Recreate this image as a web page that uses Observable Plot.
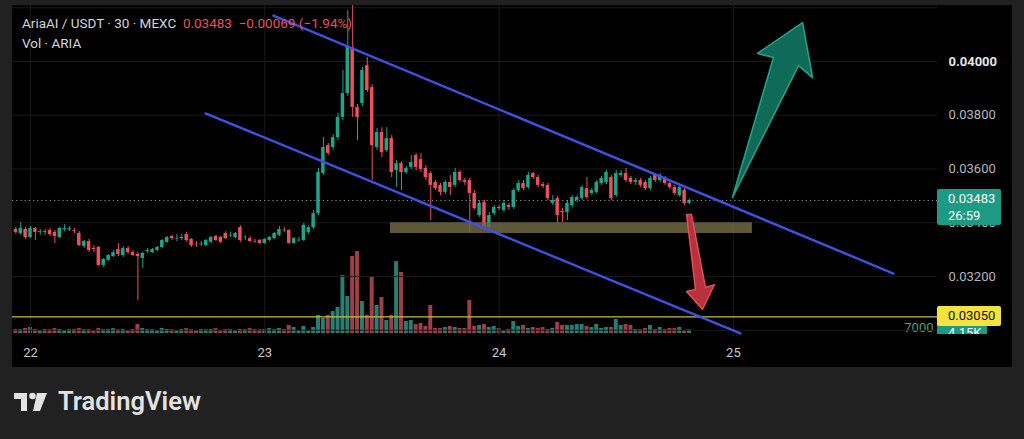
<!DOCTYPE html>
<html><head><meta charset="utf-8">
<script src="https://cdn.jsdelivr.net/npm/d3@7"></script>
<script src="https://cdn.jsdelivr.net/npm/@observablehq/plot@0.6"></script>
<style>
html,body{margin:0;padding:0;background:#212121;width:1024px;height:439px;overflow:hidden;font-family:Roboto,"Noto Sans",sans-serif;}
#panel{position:absolute;left:12px;top:5px;width:1000px;height:362px;background:#000;overflow:hidden;}
#panel svg{position:absolute;left:0;top:0;}
.hdr{position:absolute;left:10px;font-size:13.5px;color:#d1d4dc;white-space:pre;line-height:16px;}
.hdr .red{color:#e5535c;}
.lbl{position:absolute;left:925px;width:64px;box-sizing:border-box;padding-left:11px;font-size:13px;border-radius:2px;}
#logo{position:absolute;left:14px;top:388px;height:30px;}
#logo span{position:absolute;left:44px;top:-2px;font-size:25.5px;font-weight:600;color:#e3e3e3;letter-spacing:0px;white-space:nowrap;}
</style></head>
<body>
<div id="panel"></div>
<div id="logo"><svg width="40" height="30" style="position:absolute;left:0;top:0">
<path d="M0 5 H13 V23 H7 V11 H0 Z" fill="#e3e3e3"/>
<circle cx="18.5" cy="8" r="3.3" fill="#e3e3e3"/>
<path d="M23 5 H33 L26 23 H19 Z" fill="#e3e3e3"/>
</svg><span>TradingView</span></div>
<script>
// ---- data (30-minute candles, AriaAI / USDT, MEXC) ----
const firstDay = 21.9375; // 21st, 22:30
const open = [
.03375,.03360,.03375,.03345,.03379,.03364,.03367,.03371,.03364,.03345,
.03375,.03373,.03371,.03360,.03312,.03330,.03304,.03308,.03241,.03260,
.03274,.03300,.03278,.03304,.03289,.03282,.03267,.03293,.03289,.03297,
.03308,.03327,.03349,.03340,.03341,.03356,.03338,.03320,.03318,.03315,
.03327,.03349,.03345,.03360,.03351,.03345,.03382,.03344,.03341,.03331,
.03334,.03323,.03334,.03341,.03353,.03372,.03371,.03323,.03333,.03334,
.03364,.03382,.03434,.03583,.03687,.03680,.03717,.03792,.03881,.04052,
.03829,.03844,.03985,.03903,.03680,.03736,.03669,.03713,.03594,.03620,
.03587,.03606,.03650,.03635,.03602,.03583,.03550,.03539,.03513,.03550,
.03539,.03587,.03557,.03557,.03509,.03427,.03475,.03382,.03434,.03457,
.03446,.03464,.03457,.03520,.03546,.03531,.03583,.03568,.03542,.03539,
.03472,.03490,.03442,.03438,.03464,.03483,.03490,.03527,.03509,.03513,
.03546,.03550,.03568,.03501,.03576,.03583,.03565,.03550,.03557,.03550,
.03527,.03576,.03557,.03565,.03546,.03531,.03501,.03520,.03472];
const close = [
.03364,.03379,.03345,.03379,.03364,.03367,.03364,.03356,.03349,.03379,
.03379,.03378,.03368,.03315,.03330,.03297,.03300,.03241,.03263,.03278,
.03289,.03282,.03304,.03289,.03278,.03274,.03286,.03297,.03300,.03308,
.03334,.03345,.03341,.03342,.03345,.03334,.03315,.03318,.03321,.03334,
.03345,.03334,.03327,.03341,.03353,.03360,.03334,.03346,.03330,.03329,
.03323,.03338,.03345,.03360,.03375,.03370,.03323,.03341,.03335,.03390,
.03382,.03434,.03587,.03680,.03658,.03717,.03792,.03881,.04052,.03829,
.03792,.03967,.03892,.03687,.03736,.03661,.03713,.03587,.03620,.03587,
.03602,.03624,.03606,.03598,.03568,.03539,.03527,.03513,.03550,.03531,
.03587,.03557,.03550,.03509,.03453,.03472,.03382,.03427,.03457,.03453,
.03472,.03457,.03520,.03546,.03527,.03576,.03568,.03539,.03535,.03490,
.03483,.03427,.03438,.03472,.03494,.03494,.03531,.03494,.03520,.03550,
.03565,.03587,.03490,.03583,.03583,.03557,.03550,.03557,.03539,.03527,
.03565,.03557,.03576,.03546,.03531,.03509,.03531,.03472,.03483];
const high = [
.03383,.03401,.03383,.03386,.03383,.03375,.03375,.03379,.03371,.03383,
.03393,.03386,.03379,.03367,.03334,.03338,.03315,.03312,.03267,.03282,
.03297,.03323,.03312,.03312,.03297,.03289,.03289,.03304,.03304,.03312,
.03338,.03349,.03353,.03356,.03356,.03364,.03341,.03330,.03330,.03338,
.03349,.03353,.03349,.03367,.03364,.03364,.03390,.03353,.03349,.03338,
.03338,.03341,.03349,.03364,.03386,.03383,.03375,.03345,.03345,.03397,
.03390,.03446,.03602,.03717,.03695,.03728,.03807,.03967,.04190,.04210,
.03840,.03978,.04015,.03914,.03751,.03754,.03754,.03725,.03632,.03628,
.03609,.03650,.03658,.03658,.03613,.03591,.03557,.03546,.03557,.03576,
.03602,.03594,.03565,.03565,.03520,.03483,.03483,.03438,.03464,.03464,
.03483,.03472,.03527,.03557,.03557,.03587,.03587,.03576,.03550,.03546,
.03501,.03498,.03453,.03483,.03501,.03501,.03539,.03568,.03527,.03557,
.03572,.03594,.03576,.03594,.03594,.03602,.03572,.03565,.03565,.03557,
.03572,.03583,.03583,.03572,.03553,.03539,.03539,.03527,.03487];
const low = [
.03357,.03353,.03338,.03341,.03334,.03353,.03353,.03349,.03323,.03341,
.03367,.03368,.03360,.03312,.03304,.03289,.03289,.03237,.03233,.03256,
.03271,.03274,.03271,.03282,.03274,.03111,.03230,.03286,.03286,.03293,
.03304,.03323,.03334,.03330,.03334,.03327,.03308,.03308,.03312,.03312,
.03323,.03330,.03323,.03338,.03345,.03341,.03327,.03334,.03327,.03323,
.03319,.03319,.03330,.03338,.03349,.03364,.03319,.03319,.03327,.03330,
.03356,.03375,.03427,.03576,.03650,.03669,.03706,.03780,.03870,.03792,
.03706,.03833,.03885,.03557,.03669,.03643,.03661,.03568,.03531,.03520,
.03580,.03598,.03594,.03587,.03557,.03408,.03520,.03501,.03505,.03501,
.03531,.03550,.03539,.03360,.03446,.03420,.03371,.03371,.03427,.03446,
.03438,.03446,.03449,.03513,.03520,.03524,.03561,.03531,.03527,.03483,
.03464,.03397,.03401,.03408,.03457,.03475,.03483,.03486,.03501,.03505,
.03539,.03542,.03483,.03494,.03568,.03550,.03542,.03539,.03531,.03520,
.03520,.03550,.03550,.03539,.03524,.03501,.03494,.03464,.03468];
const volume = [
4700,4500,5900,7000,4600,3500,4800,4400,5800,4700,
3600,4600,4900,5800,4500,4700,3400,5900,4600,4800,
5700,4400,4800,3600,4700,10500,5800,4600,4500,3500,
5900,4700,4500,3600,4800,5800,4600,3500,4700,4500,
4800,5700,3600,4600,4700,3500,4800,4600,5800,4700,
4500,4800,5800,4600,5900,4700,9400,7000,3500,
8200,3500,7000,21100,17600,21100,25700,30400,67900,43300,
90100,95900,37400,21100,65500,32800,42100,15200,21100,84200,
71400,14000,15200,10500,11700,8200,32800,5900,5800,7000,
8200,7000,5900,5800,38600,8200,9400,10500,7000,8200,
5900,3500,4700,14000,8200,9400,5900,7000,5800,7000,
4700,5900,12900,9400,9400,9300,10500,10500,8200,7000,
10500,5900,7000,7000,16400,9400,10500,9400,4700,4600,
5900,9400,4700,7000,4600,5900,5800,7000,3500,4150];

// tick labels & levels
const dayTicks = [22, 23, 24, 25];
const priceTicks = [0.032, 0.034, 0.036, 0.038];
const boldTick = [0.040];
const gridPrices = [0.030, 0.032, 0.034, 0.036, 0.038, 0.040, 0.042];
const lastPrice = 0.03483;
const lastVolume = 4150;
const alertLevel = 0.03050;
const volTick = [7000];

// drawn annotations (day, price)
const upperChannel = [{d: 23.037, p: 0.04171}, {d: 25.683, p: 0.03211}];
const lowerChannel = [{d: 22.747, p: 0.03807}, {d: 25.030, p: 0.02988}];
const supportZone = [{d1: 23.536, d2: 25.081, p1: 0.03360, p2: 0.03400}];
const greenArrow = [
  {d: 24.996, p: 0.03494}, {d: 25.171, p: 0.04015}, {d: 25.103, p: 0.04030},
  {d: 25.295, p: 0.04145}, {d: 25.338, p: 0.03940}, {d: 25.278, p: 0.03985}];
const redArrow = [
  {d: 24.800, p: 0.03431}, {d: 24.821, p: 0.03431}, {d: 24.881, p: 0.03159},
  {d: 24.919, p: 0.03170}, {d: 24.868, p: 0.03077}, {d: 24.800, p: 0.03144},
  {d: 24.838, p: 0.03152}];

const candles = open.map((o, i) => ({
  t: firstDay + i / 48, open: o, close: close[i], high: high[i], low: low[i], vol: volume[i]
}));

const UP = "#1fa48a", DOWN = "#e9525c";
const W = 1000, H = 362;
const xDomain = [21.9232, 25.871];
const hw = 0.0074, vw = 0.0085;
const col = d => d.close >= d.open ? UP : DOWN;

const volPlot = Plot.plot({
  width: W, height: H, marginLeft: 0, marginRight: 75, marginTop: 0, marginBottom: 34,
  style: {background: "transparent", fontFamily: "Roboto", fontSize: "13px"},
  x: {type: "linear", domain: xDomain, axis: null},
  y: {domain: [0, 383760], axis: null},
  marks: [
    Plot.rect(candles, {x1: d => d.t - vw, x2: d => d.t + vw, y1: 0, y2: "vol",
      fill: d => d.close >= d.open ? "#2a7d70" : "#9c3f46"}),
    Plot.text(volTick, {y: d => d, text: d => String(d), frameAnchor: "right", dx: -4,
      textAnchor: "end", fill: "#5f9a68", fontSize: 13})
  ]
});

const pricePlot = Plot.plot({
  width: W, height: H, marginLeft: 0, marginRight: 75, marginTop: 0, marginBottom: 31,
  style: {background: "transparent", fontFamily: "Roboto", fontSize: "13px", color: "#b2b5be"},
  x: {type: "linear", domain: xDomain},
  y: {domain: [0.029767, 0.042084]},
  marks: [
    Plot.ruleY(gridPrices, {stroke: "#1a1a1a"}),
    Plot.ruleX(dayTicks, {stroke: "#1a1a1a"}),
    Plot.ruleX(candles, {x: "t", y1: "low", y2: "high", stroke: col, strokeWidth: 1, clip: true}),
    Plot.rect(candles, {x1: d => d.t - hw, x2: d => d.t + hw, y1: "open", y2: "close", fill: col, clip: true}),
    Plot.rect(supportZone, {x1: "d1", x2: "d2", y1: "p1", y2: "p2", fill: "#6e6642", fillOpacity: 0.85}),
    Plot.ruleY([lastPrice], {stroke: "#8c9a98", strokeDasharray: "1.2,3"}),
    Plot.ruleY([alertLevel], {stroke: "#c7bc3c", strokeWidth: 1.3}),
    Plot.line(upperChannel, {x: "d", y: "p", stroke: "#3f51e0", strokeWidth: 2.4, clip: true}),
    Plot.line(lowerChannel, {x: "d", y: "p", stroke: "#3f51e0", strokeWidth: 2.4, clip: true}),
    Plot.line(greenArrow, {x: "d", y: "p", curve: "linear-closed", fill: "#0f6a58", stroke: "#25a088", strokeWidth: 1.6}),
    Plot.line(redArrow, {x: "d", y: "p", curve: "linear-closed", fill: "#b8313b", stroke: "#e0525c", strokeWidth: 1.4}),
    Plot.axisY(priceTicks, {anchor: "right", tickSize: 0, tickPadding: 11, tickFormat: d3.format(".5f"),
      label: null, fill: "#b4b6bc", fontSize: 13}),
    Plot.axisY(boldTick, {anchor: "right", tickSize: 0, tickPadding: 11, tickFormat: d3.format(".5f"),
      label: null, fill: "#e6e6e6", fontSize: 13, fontWeight: "bold"}),
    Plot.axisX(dayTicks, {tickSize: 0, tickPadding: 11, tickFormat: d => String(d), label: null,
      fill: "#c8c8c8", fontSize: 13})
  ]
});

const panel = document.getElementById("panel");
panel.appendChild(volPlot);
panel.appendChild(pricePlot);

const ys = pricePlot.scale("y"), vs = volPlot.scale("y");

// volume last-value label (mostly hidden below the alert label, clipped at pane bottom)
const clipBox = document.createElement("div");
clipBox.style.cssText = "position:absolute;left:0;top:0;width:1000px;height:329px;overflow:hidden;";
const vl = document.createElement("div");
vl.className = "lbl";
vl.style.cssText += `top:${vs.apply(lastVolume) - 6}px;height:20px;line-height:20px;background:#1d9a83;color:#fff;width:50px;`;
vl.textContent = (lastVolume / 1000).toFixed(2) + "K";
clipBox.appendChild(vl);
panel.appendChild(clipBox);

// alert level label
const al = document.createElement("div");
al.className = "lbl";
al.style.cssText += `top:${ys.apply(alertLevel) - 10}px;height:20px;line-height:20px;background:#f2e33f;color:#111;`;
al.textContent = d3.format(".5f")(alertLevel);
panel.appendChild(al);

// last price label
const pl = document.createElement("div");
pl.className = "lbl";
pl.style.cssText += `top:${ys.apply(lastPrice) - 11}px;height:36px;line-height:17px;padding-top:1px;background:#1d9a83;color:#fff;`;
pl.innerHTML = d3.format(".5f")(lastPrice) + "<br>26:59";
panel.appendChild(pl);

// header
const h1 = document.createElement("div");
h1.className = "hdr"; h1.style.top = "10px";
h1.innerHTML = 'AriaAI / USDT · 30 · MEXC  <span class="red">0.03483  −0.00069 (−1.94%)</span>';
panel.appendChild(h1);
const h2 = document.createElement("div");
h2.className = "hdr"; h2.style.top = "30px";
h2.textContent = "Vol · ARIA";
panel.appendChild(h2);
</script>
</body></html>
